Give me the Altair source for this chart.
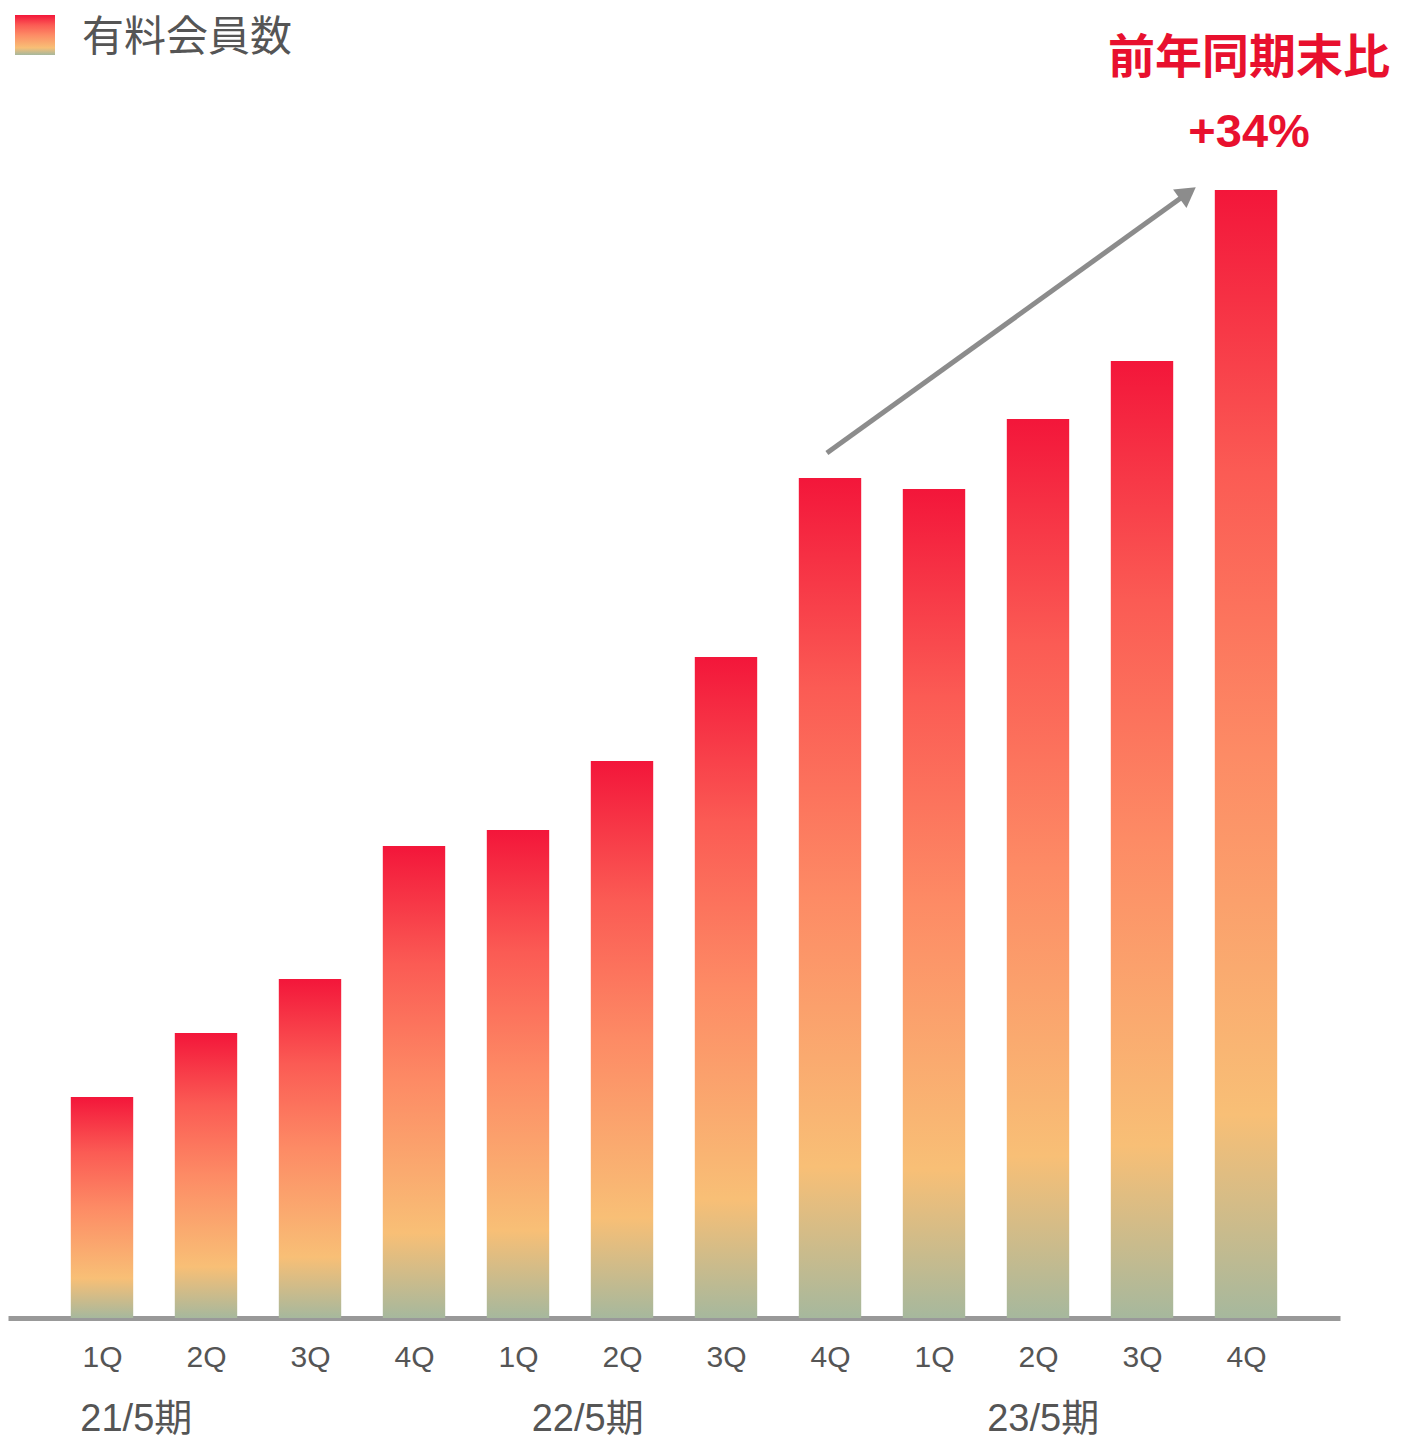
import json
import altair as alt
import pandas as pd

# ---- data ----
quarter_labels = ["1Q", "2Q", "3Q", "4Q", "1Q", "2Q", "3Q", "4Q", "1Q", "2Q", "3Q", "4Q"]
fiscal_years = ["21/5期"] * 4 + ["22/5期"] * 4 + ["23/5期"] * 4
paid_members = [221, 285, 339, 472, 488, 557, 661, 840, 829, 899, 957, 1128]  # relative heights

group_labels = ["21/5期", "22/5期", "23/5期"]
group_label_pos = [0.33, 4.67, 9.05]

legend_label = "有料会員数"
callout_lines = ["前年同期末比", "+34%"]
callout_pos = 11.03

# arrow (from 22/5期 4Q towards 23/5期 4Q), in data units
arrow_x = [6.97, 10.44]
arrow_y = [865, 1125]

FONT = "Liberation Sans, Noto Sans CJK JP, sans-serif"
RED = "#e8102e"
GREY_TEXT = "#555555"

gradient = {
    "gradient": "linear", "x1": 0, "x2": 0, "y1": 0, "y2": 1,
    "stops": [
        {"offset": 0.0, "color": "#f3163a"},
        {"offset": 0.25, "color": "#fb5b54"},
        {"offset": 0.5, "color": "#fd8b65"},
        {"offset": 0.82, "color": "#f8bf76"},
        {"offset": 1.0, "color": "#a6b89d"},
    ],
}

df = pd.DataFrame({
    "idx": list(range(len(paid_members))),
    "quarter": quarter_labels,
    "fy": fiscal_years,
    "members": paid_members,
})

xscale = alt.Scale(domain=[-0.9038, 11.9038], nice=False, zero=False)
yscale = alt.Scale(domain=[0, 1310], nice=False, zero=True)

label_expr = json.dumps(quarter_labels) + "[datum.value]"

bars = alt.Chart(df).mark_bar(color=gradient).transform_calculate(
    x0="datum.idx - 0.3", x1="datum.idx + 0.3", base="0"
).encode(
    x=alt.X("x0:Q", scale=xscale,
            axis=alt.Axis(values=list(range(12)), labelExpr=label_expr, title=None,
                          grid=False, ticks=False, tickSize=0, domainColor="#999999",
                          domainWidth=5, labelFontSize=30, labelFont=FONT,
                          labelColor=GREY_TEXT, labelPadding=39, labelBaseline="middle")),
    x2="x1:Q",
    y=alt.Y("members:Q", scale=yscale, axis=None),
    y2="base:Q",
)

arrow_df = pd.DataFrame({"ax": arrow_x, "ay": arrow_y})
arrow_line = alt.Chart(arrow_df).mark_line(color="#8c8c8c", strokeWidth=5).encode(
    x=alt.X("ax:Q", scale=xscale), y=alt.Y("ay:Q", scale=yscale)
)
arrow_head = alt.Chart(arrow_df.iloc[[1]]).mark_point(
    shape="triangle-up", size=520, filled=True, color="#8c8c8c", opacity=1, angle=54
).encode(x=alt.X("ax:Q", scale=xscale), y=alt.Y("ay:Q", scale=yscale))

groups_df = pd.DataFrame({"g": group_labels, "gx": group_label_pos})
group_text = alt.Chart(groups_df).mark_text(
    fontSize=38, font=FONT, color=GREY_TEXT, baseline="middle", align="center"
).encode(x=alt.X("gx:Q", scale=xscale), y=alt.value(1412), text="g:N")

callout_df = pd.DataFrame({"t": callout_lines, "cx": [callout_pos] * 2, "cy": [51, 125]})
callout = alt.Chart(callout_df).mark_text(
    fontSize=47, font=FONT, fontWeight="bold", color=RED, baseline="middle", align="center"
).encode(x=alt.X("cx:Q", scale=xscale), y=alt.Y("cy:Q", scale=None), text="t:N")

one = pd.DataFrame({"label": [legend_label]})
legend_box = alt.Chart(one).mark_rect(color=gradient).encode(
    x=alt.value(7), x2=alt.value(47), y=alt.value(7), y2=alt.value(47)
)
legend_text = alt.Chart(one).mark_text(
    fontSize=42, font=FONT, color=GREY_TEXT, align="left", baseline="middle"
).encode(x=alt.value(74), y=alt.value(30), text="label:N")

chart = alt.layer(
    bars, arrow_line, arrow_head, group_text, callout, legend_box, legend_text
).properties(
    width=1332, height=1310,
    padding={"left": 0, "top": 0, "right": 52, "bottom": 120},
    autosize=alt.AutoSizeParams(type="none"),
).configure_view(stroke=None)

chart.save("out.html", embed_options={"renderer": "svg", "actions": False})
